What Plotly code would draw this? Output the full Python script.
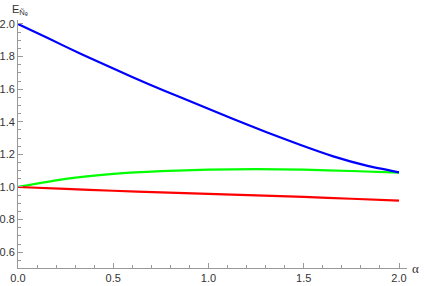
import plotly.graph_objects as go

blue_alpha = [0.0, 0.159, 0.334, 0.509, 0.684, 0.859, 1.034, 1.13, 1.305, 1.48, 1.655, 1.83, 2.0]
blue_vals = [2.0, 1.912, 1.814, 1.722, 1.632, 1.547, 1.463, 1.417, 1.336, 1.259, 1.188, 1.131, 1.09]
alpha = [0.0, 0.25, 0.5, 0.75, 1.0, 1.25, 1.5, 1.75, 2.0]
green_vals = [1.0, 1.05, 1.08, 1.097, 1.106, 1.109, 1.106, 1.098, 1.088]
red_vals = [1.0, 0.988, 0.977, 0.967, 0.958, 0.949, 0.939, 0.928, 0.916]

x_ticks = [0.0, 0.5, 1.0, 1.5, 2.0]
y_ticks = [0.6, 0.8, 1.0, 1.2, 1.4, 1.6, 1.8, 2.0]

fig = go.Figure()
for xs, vals, col in [(alpha, green_vals, "#00ff00"), (alpha, red_vals, "#ff0000"),
                      (blue_alpha, blue_vals, "#0000ff")]:
    fig.add_trace(go.Scatter(x=xs, y=vals, mode="lines",
                             line=dict(color=col, width=2.2, shape="spline", smoothing=0.6),
                             showlegend=False, hoverinfo="skip", cliponaxis=False))

axis_common = dict(showgrid=False, zeroline=False, showline=True, linecolor="#999999",
                   linewidth=1, ticks="inside", ticklen=5, tickcolor="#999999",
                   tickfont=dict(family="Liberation Sans, Arial", size=11, color="#333333"),
                   tickformat=".1f", automargin=False)

fig.update_xaxes(range=[0, 2.042], tickvals=x_ticks,
                 minor=dict(ticks="inside", dtick=0.1, tick0=0, ticklen=3, tickcolor="#999999"),
                 **axis_common)
fig.update_yaxes(range=[0.503, 2.0245], tickvals=y_ticks,
                 minor=dict(ticks="inside", dtick=0.05, tick0=0.5, ticklen=3, tickcolor="#999999"),
                 **axis_common)

fig.add_annotation(text="α", xref="paper", yref="paper", x=1.0, y=0.0,
                   xanchor="left", yanchor="middle", xshift=3, showarrow=False,
                   font=dict(family="Liberation Serif", size=13, color="#333333"))
fig.add_annotation(text="E<sub>Ñₑ</sub>", xref="paper", yref="paper", x=0.0, y=1.0,
                   xanchor="center", yanchor="bottom", xshift=2, yshift=1, showarrow=False,
                   font=dict(family="Liberation Sans", size=11, color="#333333"))

fig.update_layout(width=425, height=286, margin=dict(l=18, r=18, t=20, b=18),
                  plot_bgcolor="white", paper_bgcolor="white")
# remove the browser's default 8px body margin so the figure sits at the window's corner
fig.write_html("out.html", config={"displayModeBar": False},
               post_script="document.body.style.margin='0';document.body.style.overflow='hidden';")
